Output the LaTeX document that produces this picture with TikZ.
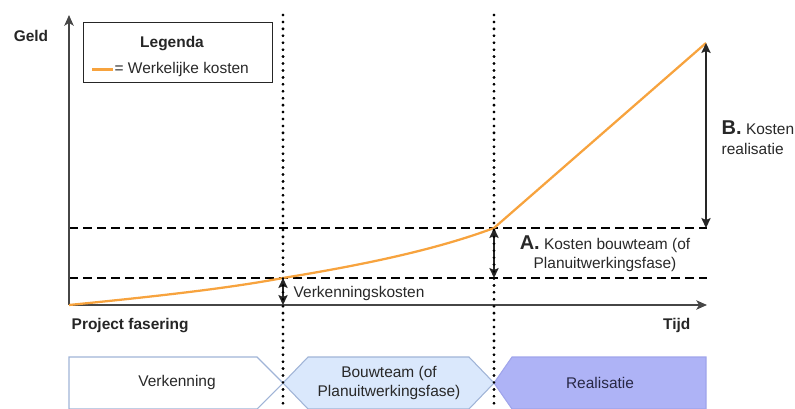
\documentclass[tikz,border=0pt]{standalone}
\usepackage{fontspec}
\setmainfont{Liberation Sans}
\usetikzlibrary{arrows.meta}

\definecolor{costorange}{RGB}{247,163,62}
\definecolor{axisgray}{RGB}{70,70,70}
\definecolor{phaseline}{RGB}{160,180,215}
\definecolor{bouwfill}{RGB}{218,232,252}
\definecolor{realfill}{RGB}{174,179,246}
\definecolor{realline}{RGB}{160,165,235}
\definecolor{textgray}{RGB}{40,40,40}
\definecolor{realtext}{RGB}{40,40,70}

\tikzset{
  basefont/.style={font=\fontsize{11.6}{14}\selectfont, text=textgray},
  boldlabel/.style={font=\fontsize{11.6}{14}\selectfont\bfseries, text=black!85},
  axisline/.style={draw=axisgray, line width=1.3pt, -{Stealth[length=8pt,width=7pt,inset=2pt]}},
  guide/.style={draw=black, line width=1.4pt, dash pattern=on 6.5pt off 4pt},
  divider/.style={draw=black, line width=2.1pt, line cap=round, dash pattern=on 0pt off 5.2pt},
  costline/.style={draw=costorange, line width=1.7pt},
  dimarrow/.style={draw=black!85, line width=1pt, {Stealth[length=7.5pt,width=7pt,inset=1.5pt]}-{Stealth[length=7.5pt,width=7pt,inset=1.5pt]}},
  phasebox/.style={line width=0.8pt},
}

\begin{document}
\begin{tikzpicture}[x=0.75pt,y=-0.75pt]
\useasboundingbox (0,0) rectangle (795,409);
\clip (0,0) rectangle (795,409);

% key points of the cost curve
\coordinate (origin) at (69,305);
\coordinate (ytop) at (69,15);
\coordinate (xend) at (707,305);
\coordinate (p1) at (283,278);
\coordinate (p2) at (494,228);
\coordinate (p3) at (706,43);
\coordinate (dashend) at (707,0);

% phase dividers
\coordinate (d1top) at (283,15);
\coordinate (d1bot) at (283,409);
\coordinate (d2top) at (494,15);
\coordinate (d2bot) at (494,409);
\draw[divider] (d1top) -- (d1bot);
\draw[divider] (d2top) -- (d2bot);

% reference levels
\draw[guide] (origin |- p1) -- (dashend |- p1);
\draw[guide] (origin |- p2) -- (dashend |- p2);

% axes
\draw[axisline] (origin) -- (ytop);
\draw[axisline] (origin) -- (xend);

% actual cost curve
\draw[costline] (origin) .. controls (160,296) and (230,288) .. (p1)
  .. controls (350,267) and (430,252) .. (p2) -- (p3);

% cost dimensions
\draw[dimarrow] (p1) -- (p1 |- origin);
\draw[dimarrow] (p2) -- (p2 |- p1);
\draw[dimarrow] (p3) -- (p3 |- p2);

% axis labels
\node[boldlabel] (geld) at (31,36) {Geld};
\node[boldlabel, anchor=west] (fasering) at (67,326) {Project fasering};
\node[boldlabel, anchor=east] (tijd) at (695,326) {Tijd};

% legend
\node[draw=black!85, line width=1pt, minimum width=189*0.75pt, minimum height=60*0.75pt, anchor=north west] (legend) at (83,22) {};
\node[boldlabel] (legtitle) at (172,44) {Legenda};
\coordinate (lega) at (92,69.5);
\coordinate (legb) at (113,69.5);
\draw[costline] (lega) -- (legb);
\node[basefont, anchor=west, inner sep=1pt] (legtext) at (legb) {= Werkelijke kosten};

% cost labels
\node[basefont, anchor=west] (verk) at (289,294) {Verkenningskosten};
\node[basefont, align=center] (costa) at (605,254)
  {{\fontsize{15}{14}\selectfont\bfseries A.} Kosten bouwteam (of\\[0pt]Planuitwerkingsfase)};
\node[basefont, align=left, anchor=west] (costb) at (717,138)
  {{\fontsize{15}{14}\selectfont\bfseries B.} Kosten\\[1pt]realisatie};

% project phases
\draw[phasebox, draw=phaseline, fill=white]
  (69,357) -- (257,357) -- (283,383) -- (257,409) -- (69,409) -- cycle;
\draw[phasebox, draw=phaseline, fill=bouwfill]
  (308,357) -- (469,357) -- (494,383) -- (469,409) -- (308,409) -- (283,383) -- cycle;
\draw[phasebox, draw=realline, fill=realfill]
  (512,357) -- (706,357) -- (706,409) -- (512,409) -- (494,383) -- cycle;
\draw[divider] (d1top) -- (d1bot);
\draw[divider] (d2top) -- (d2bot);

\node[basefont] (verkenning) at (177,383) {Verkenning};
\node[basefont, align=center] (bouwteam) at (389,383) {Bouwteam (of\\Planuitwerkingsfase)};
\node[basefont, text=realtext] (realisatie) at (600,383) {Realisatie};
\end{tikzpicture}
\end{document}
